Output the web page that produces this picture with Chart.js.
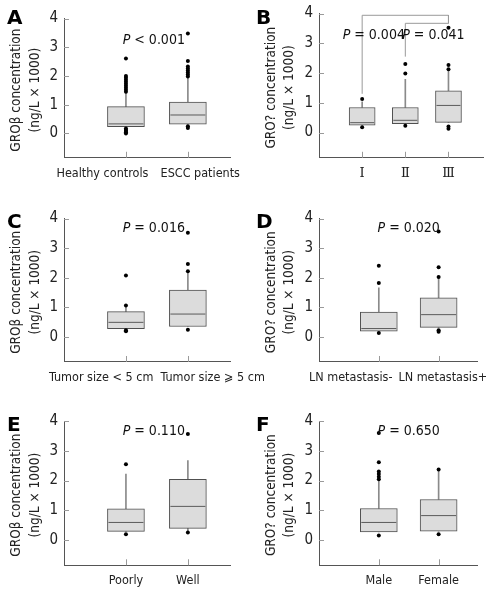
<!DOCTYPE html>
<html>
<head>
<meta charset="utf-8">
<script src="https://cdn.jsdelivr.net/npm/chart.js@4.4.1/dist/chart.umd.min.js"></script>
<style>
  html, body { margin: 0; padding: 0; background: #fff; }
  #fig { position: relative; width: 496px; height: 597px; overflow: hidden; }
  #fig canvas { position: absolute; }
  .tag { position: absolute; font: bold 20px "DejaVu Sans", sans-serif; line-height: 1; color: #000; }
</style>
</head>
<body>
<div id="fig"></div>
<script>
const FONT = '"DejaVu Sans Condensed", "DejaVu Sans", sans-serif';
const yTicks = [0, 1, 2, 3, 4];
const titleBeta = ['GROβ concentration', '(ng/L × 1000)'];
const titleQ = ['GRO? concentration', '(ng/L × 1000)'];

// A - healthy vs ESCC
const catsA = ['Healthy controls', 'ESCC patients'];
const lowA = [0.23, 0.32];
const q1A = [0.23, 0.32];
const medA = [0.33, 0.64];
const q3A = [0.93, 1.09];
const highA = [1.4, 1.93];
const outA = [[1.45, 1.52, 1.59, 1.66, 1.73, 1.8, 1.87, 1.94, 2.0, 2.61, 0.17, 0.12, 0.08, 0.04, 0.0],
              [1.98, 2.05, 2.12, 2.19, 2.26, 2.33, 2.52, 3.48, 0.25, 0.19]];

// B - stage
const catsB = ['Ⅰ', 'Ⅱ', 'Ⅲ'];
const lowB = [0.25, 0.3, 0.34];
const q1B = [0.25, 0.3, 0.34];
const medB = [0.33, 0.41, 0.91];
const q3B = [0.84, 0.84, 1.4];
const highB = [1.03, 1.79, 2.1];
const outB = [[1.13, 0.18], [1.98, 2.3, 0.23], [2.13, 2.27, 3.52, 0.2, 0.13]];
const bracketB1 = [[1, 1.3], [1, 3.94], [3, 3.94], [3, 3.67]];
const bracketB2 = [[2, 2.55], [2, 3.67], [3, 3.67]];

// C - tumor size
const catsC = ['Tumor size < 5 cm', 'Tumor size ⩾ 5 cm'];
const lowC = [0.28, 0.35];
const q1C = [0.28, 0.35];
const medC = [0.49, 0.77];
const q3C = [0.85, 1.58];
const highC = [1.0, 2.22];
const outC = [[1.06, 2.07, 0.22, 0.19], [2.22, 2.46, 3.52, 0.24]];

// D - LN metastasis
const catsD = ['LN metastasis-', 'LN metastasis+'];
const lowD = [0.19, 0.32];
const q1D = [0.19, 0.32];
const medD = [0.28, 0.75];
const q3D = [0.84, 1.32];
const highD = [1.66, 2.02];
const outD = [[1.82, 2.4, 0.13], [2.02, 2.35, 3.56, 0.22, 0.17]];

// E - differentiation
const catsE = ['Poorly', 'Well'];
const lowE = [0.29, 0.3];
const q1E = [0.29, 0.39];
const medE = [0.59, 1.13];
const q3E = [1.05, 2.04];
const highE = [2.22, 2.67];
const outE = [[2.55, 0.19], [3.56, 0.25]];

// F - gender
const catsF = ['Male', 'Female'];
const lowF = [0.27, 0.3];
const q1F = [0.27, 0.3];
const medF = [0.59, 0.82];
const q3F = [1.06, 1.36];
const highF = [2.02, 2.35];
const outF = [[2.04, 2.13, 2.22, 2.3, 2.61, 3.6, 0.15], [2.37, 0.19]];

const panels = [
  { tag: 'A', col: 0, row: 0, cats: catsA, low: lowA, q1: q1A, med: medA, q3: q3A, high: highA, out: outA,
    title: titleBeta, xMax: 2.68, labelAt: [0.62, 2.2], boxW: 37, notes: [{ x: 1.45, y: 3.24, t: ' < 0.001' }] },
  { tag: 'B', col: 1, row: 0, cats: catsB, low: lowB, q1: q1B, med: medB, q3: q3B, high: highB, out: outB,
    title: titleQ, xMax: 3.8, labelAt: [1, 2, 3], boxW: 26, serif: true,
    notes: [{ x: 1.27, y: 3.27, t: ' = 0.004' }, { x: 2.65, y: 3.27, t: ' = 0.041' }],
    brackets: [bracketB1, bracketB2] },
  { tag: 'C', col: 0, row: 1, cats: catsC, low: lowC, q1: q1C, med: medC, q3: q3C, high: highC, out: outC,
    title: titleBeta, xMax: 2.68, labelAt: [0.6, 2.4], boxW: 37, notes: [{ x: 1.45, y: 3.66, t: ' = 0.016' }] },
  { tag: 'D', col: 1, row: 1, cats: catsD, low: lowD, q1: q1D, med: medD, q3: q3D, high: highD, out: outD,
    title: titleQ, xMax: 2.65, labelAt: [0.53, 2.07], boxW: 37, notes: [{ x: 1.5, y: 3.66, t: ' = 0.020' }] },
  { tag: 'E', col: 0, row: 2, cats: catsE, low: lowE, q1: q1E, med: medE, q3: q3E, high: highE, out: outE,
    title: titleBeta, xMax: 2.68, labelAt: [1, 2], boxW: 37, notes: [{ x: 1.45, y: 3.66, t: ' = 0.110' }] },
  { tag: 'F', col: 1, row: 2, cats: catsF, low: lowF, q1: q1F, med: medF, q3: q3F, high: highF, out: outF,
    title: titleQ, xMax: 2.65, labelAt: [1, 2], boxW: 37, notes: [{ x: 1.5, y: 3.66, t: ' = 0.650' }] }
];

const panelDecor = {
  id: 'panelDecor',
  afterDraw(chart, args, opts) {
    const { ctx, chartArea: a, scales: { x, y } } = chart;
    ctx.save();
    ctx.strokeStyle = '#9a9a9a';
    ctx.lineWidth = 1;
    ctx.beginPath();
    yTicks.forEach(v => {
      const py = Math.round(y.getPixelForValue(v)) + 0.5;
      ctx.moveTo(a.left, py); ctx.lineTo(a.left + 5, py);
    });
    opts.cats.forEach((c, i) => {
      const px = Math.round(x.getPixelForValue(i + 1)) + 0.5;
      ctx.moveTo(px, a.bottom); ctx.lineTo(px, a.bottom - 6);
    });
    ctx.stroke();
    ctx.fillStyle = '#111';
    ctx.textBaseline = 'middle';
    // P value notes
    opts.notes.forEach(n => {
      const fp = 'italic 14px ' + FONT, fr = '14px ' + FONT;
      ctx.font = fp; const wp = ctx.measureText('P').width;
      ctx.font = fr; const wr = ctx.measureText(n.t).width;
      const sx = x.getPixelForValue(n.x) - (wp + wr) / 2, sy = y.getPixelForValue(n.y);
      ctx.textAlign = 'left';
      ctx.font = fp; ctx.fillText('P', sx, sy);
      ctx.font = fr; ctx.fillText(n.t, sx + wp, sy);
    });
    // y axis title, two lines, centred on the plot height
    ctx.font = '13.5px ' + FONT;
    ctx.fillStyle = '#222';
    ctx.textAlign = 'center';
    const cy = (a.top + a.bottom) / 2 + 2;
    opts.title.forEach((line, i) => {
      ctx.save();
      ctx.translate(opts.titleX[i], cy);
      ctx.rotate(-Math.PI / 2);
      ctx.fillText(line, 0, 0);
      ctx.restore();
    });
    ctx.restore();
  }
};

const fig = document.getElementById('fig');
const unit = 29.75, xAxisH = 30, yMin = -0.85;
const rowTop4 = [13.5, 217.7, 421];

panels.forEach(p => {
  const left = p.col === 0 ? 0 : 248;
  const W = p.col === 0 ? 280 : 248;
  const top = [0, 200, 400][p.row];
  const H = p.row === 2 ? 197 : 200;
  const top4 = rowTop4[p.row] - top;
  const axisLeft = p.col === 0 ? 64 : 71;
  const areaRight = p.col === 0 ? 230 : 235;
  const plotH = (4 - yMin) * unit;

  const cv = document.createElement('canvas');
  cv.width = W; cv.height = H;
  cv.style.left = left + 'px'; cv.style.top = top + 'px';
  fig.appendChild(cv);

  const tag = document.createElement('div');
  tag.className = 'tag';
  tag.textContent = p.tag;
  tag.style.left = (left + (p.col === 0 ? 7 : 8)) + 'px';
  tag.style.top = (top + top4 - 7) + 'px';
  fig.appendChild(tag);

  const pos = p.cats.map((c, i) => i + 1);
  const outPts = [];
  p.out.forEach((arr, i) => arr.forEach(v => outPts.push({ x: i + 1, y: v })));

  const datasets = [
    { type: 'scatter', data: outPts, pointRadius: 2, pointBackgroundColor: '#000', pointBorderWidth: 0 },
    { type: 'scatter', data: pos.map((x, i) => ({ x, y: p.med[i] })), pointStyle: 'line',
      pointRadius: p.boxW / 2 - 1, pointBorderColor: '#5a5a5a', pointBorderWidth: 1 },
    { type: 'bar', data: pos.map((x, i) => ({ x, y: [p.q1[i], p.q3[i]] })), barThickness: p.boxW,
      backgroundColor: '#dcdcdc', borderColor: '#505050', borderWidth: 1, borderSkipped: false, grouped: false },
    { type: 'bar', data: pos.map((x, i) => ({ x, y: [p.q3[i], p.high[i]] })), barThickness: 1,
      backgroundColor: '#8a8a8a', grouped: false },
    { type: 'bar', data: pos.map((x, i) => ({ x, y: [p.low[i], p.q1[i]] })), barThickness: 1,
      backgroundColor: '#8a8a8a', grouped: false }
  ];
  (p.brackets || []).forEach(b => datasets.push({
    type: 'line', data: b.map(([x, y]) => ({ x, y })), borderColor: '#9a9a9a', borderWidth: 1,
    pointRadius: 0, tension: 0, fill: false
  }));

  const titleX = p.col === 0 ? [16, 35] : [23, 41];

  new Chart(cv.getContext('2d'), {
    type: 'bar',
    data: { datasets },
    options: {
      responsive: false,
      animation: false,
      events: [],
      layout: { padding: { top: top4, bottom: H - top4 - plotH - xAxisH, left: 0, right: W - areaRight } },
      plugins: {
        legend: { display: false },
        tooltip: { enabled: false },
        panelDecor: { cats: p.cats, notes: p.notes, title: p.title, titleX }
      },
      scales: {
        x: {
          type: 'linear', min: 0, max: p.xMax, offset: false,
          grid: { display: false, drawTicks: false },
          border: { display: true, color: '#555', width: 1 },
          afterBuildTicks: s => { s.ticks = p.labelAt.map(v => ({ value: v })); },
          afterFit: s => { s.height = xAxisH; s.paddingLeft = 0; s.paddingRight = 0; },
          ticks: {
            autoSkip: false, maxRotation: 0, padding: 8, color: '#222',
            font: p.serif ? { family: '"DejaVu Serif", serif', size: 13 } : { family: FONT, size: 12.5 },
            callback: (v, i) => p.cats[i]
          }
        },
        y: {
          min: yMin, max: 4,
          grid: { display: false, drawTicks: false },
          border: { display: true, color: '#555', width: 1 },
          afterBuildTicks: s => { s.ticks = yTicks.map(v => ({ value: v })); },
          afterFit: s => { s.width = axisLeft; s.paddingTop = 0; s.paddingBottom = 0; },
          ticks: { padding: 6, color: '#222', font: { family: FONT, size: 15 } }
        }
      }
    },
    plugins: [panelDecor]
  });
});
</script>
</body>
</html>
